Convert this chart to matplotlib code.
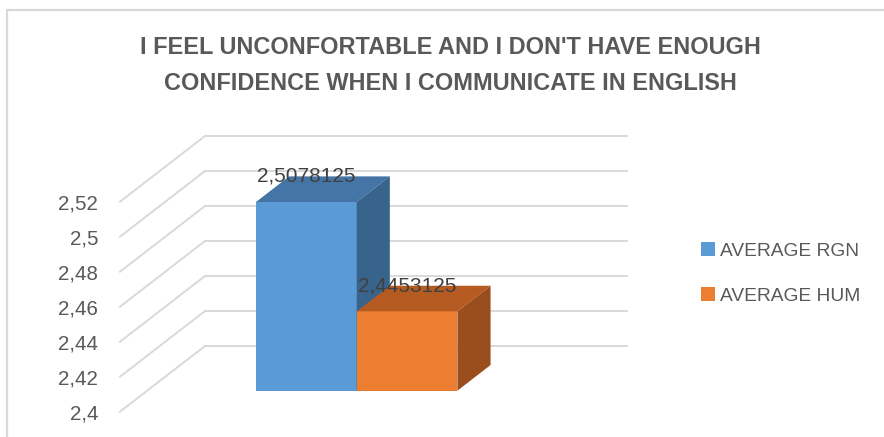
import numpy as np
import matplotlib as mpl
mpl.use('Agg')
import matplotlib.pyplot as plt
from matplotlib.patches import Polygon, Patch, Rectangle

plt.rcParams['font.family'] = ['Liberation Sans', 'DejaVu Sans']

series = ['AVERAGE RGN', 'AVERAGE HUM']
values = [2.5078125, 2.4453125]
value_labels = ['2,5078125', '2,4453125']
yticks = [2.40, 2.42, 2.44, 2.46, 2.48, 2.50, 2.52]
ytick_labels = ['2,4', '2,42', '2,44', '2,46', '2,48', '2,5', '2,52']
title = "I FEEL UNCONFORTABLE AND I DON'T HAVE ENOUGH\nCONFIDENCE WHEN I COMMUNICATE IN ENGLISH"

front_colors = ['#5b9bd5', '#ed7d31']
top_colors = ['#4475a6', '#b55b22']
side_colors = ['#38638a', '#9a4e1d']
grid_color = '#d9d9d9'
text_color = '#595959'

W, H = 884, 437
fig = plt.figure(figsize=(W / 100, H / 100), dpi=100)

# outer chart frame (runs off the right and bottom edges)
fig.patches.append(Rectangle((7 / W, -0.2), 1.2, (H - 10) / H + 0.2, transform=fig.transFigure,
                             facecolor='none', edgecolor=grid_color, lw=1.6))

# axes = front plane of the 3d box
ax = fig.add_axes([120 / W, (H - 411.7) / H, 422 / W, 210 / H])
ymin, ymax = 2.4, 2.52
xmin, xmax = -1.58, 2.61
ax.set_xlim(xmin, xmax)
ax.set_ylim(ymin, ymax)

# full depth of the box in data units
dx = 85 / 422 * (xmax - xmin)
dy = 65.7 / 210 * (ymax - ymin)
z1, z2 = 0.32, 0.71  # front and back of the bars


def at(x, y, z):
    return (x + z * dx, y + z * dy)


# side wall + back wall gridlines
for t in yticks:
    ax.plot([xmin, xmin + dx], [t, t + dy], color=grid_color, lw=1.4, clip_on=False, zorder=1)
    ax.plot([xmin + dx, xmax + dx], [t + dy, t + dy], color=grid_color, lw=1.4, clip_on=False, zorder=1)

xpos = np.arange(len(values))
ax.bar(xpos + z1 * dx, np.array(values) - ymin, bottom=ymin + z1 * dy, width=1.0,
       color=front_colors, clip_on=False, zorder=3)

for i, v in enumerate(values):
    x0, x1 = xpos[i] - 0.5, xpos[i] + 0.5
    top = [at(x0, v, z1), at(x1, v, z1), at(x1, v, z2), at(x0, v, z2)]
    side = [at(x1, ymin, z1), at(x1, v, z1), at(x1, v, z2), at(x1, ymin, z2)]
    ax.add_patch(Polygon(top, closed=True, facecolor=top_colors[i], edgecolor='none',
                         clip_on=False, zorder=3 + i))
    ax.add_patch(Polygon(side, closed=True, facecolor=side_colors[i], edgecolor='none',
                         clip_on=False, zorder=3 + i))
    ax.text(xpos[i] + z1 * dx, v + z2 * dy, value_labels[i], ha='center', va='center',
            fontsize=15, color='#404040', zorder=10)

# orange bar front has to sit above the blue side face
ax.patches[1].set_zorder(4)

ax.set_yticks(yticks, ytick_labels)
ax.set_xticks([])
ax.tick_params(axis='y', length=0, pad=15.8, labelsize=14.8, labelcolor=text_color)
for s in ax.spines.values():
    s.set_visible(False)
ax.patch.set_visible(False)

handles = [Patch(facecolor=c, edgecolor='none') for c in front_colors]
fig.legend(handles, series, loc='center left', bbox_to_anchor=(701 / W, 1 - 273.5 / H),
           frameon=False, fontsize=13.8, labelcolor=text_color, handlelength=0.73,
           handleheight=0.73, handletextpad=0.26, labelspacing=1.45, borderpad=0,
           borderaxespad=0)

fig.text(450 / W, 1 - 65.5 / H, title, ha='center', va='center', fontsize=16.9,
         fontweight='bold', color=text_color,
         family=['DejaVu Sans Condensed', 'Liberation Sans Narrow', 'Liberation Sans'],
         linespacing=1.75)

fig.savefig('out.png', dpi=100)
